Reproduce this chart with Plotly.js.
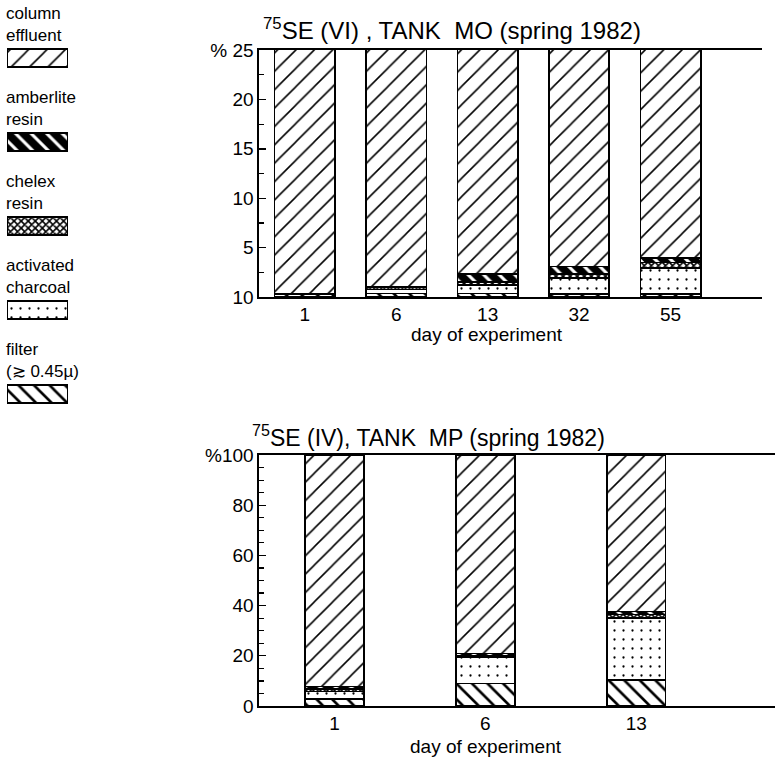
<!DOCTYPE html>
<html>
<head>
<meta charset="utf-8">
<script src="https://cdn.plot.ly/plotly-3.0.1.min.js"></script>
<style>html,body{margin:0;padding:0;background:#fff;}#chart{width:775px;height:761px;}</style>
</head>
<body>
<div id="chart"></div>
<script>
// ---- Data: top panel, 75Se(VI), tank MO ----
const daysTop = ['1', '6', '13', '32', '55'];
const filterTop = [0.25, 0.35, 0.35, 0.33, 0.33];
const charcoalTop = [0.05, 0.4, 0.85, 1.6, 2.6];
const chelexTop = [0.03, 0.2, 0.3, 0.4, 0.55];
const amberliteTop = [0.02, 0.08, 0.85, 0.75, 0.45];
const effluentTop = [99.65, 98.97, 97.65, 96.92, 96.07];

// ---- Data: bottom panel, 75Se(IV), tank MP ----
const daysBottom = ['1', '6', '13'];
const filterBottom = [2.8, 9.0, 10.3];
const charcoalBottom = [2.9, 10.5, 24.8];
const chelexBottom = [1.0, 0.7, 1.3];
const amberliteBottom = [1.0, 0.7, 1.3];
const effluentBottom = [92.3, 79.1, 62.3];

// ---- Tick labels ----
const topTickVals = [0, 5, 10, 15, 20, 25];
const topTickText = ['10', '5', '10', '15', '20', '% 25'];
const bottomTickVals = [0, 20, 40, 60, 80, 100];
const bottomTickText = ['0', '20', '40', '60', '80', '%100'];

// ---- Legend ----
const legendKeys = ['effluent', 'amberlite', 'chelex', 'charcoal', 'filter'];
const legendLabels = ['column<br>effluent', 'amberlite<br>resin', 'chelex<br>resin', 'activated<br>charcoal', 'filter<br>(\u2273 0.45\u00b5)'];

const FONT = 'Liberation Sans, Arial, sans-serif';
const W = 775, H = 761;
const px = v => v / W;
const py = v => 1 - v / H;

const patterns = {
  effluent: {shape: '/', fgcolor: '#000', bgcolor: '#fff', size: 13, solidity: 0.12},
  amberlite: {shape: '\\', fgcolor: '#fff', bgcolor: '#000', size: 11, solidity: 0.28},
  chelex: {shape: 'x', fgcolor: '#000', bgcolor: '#fff', size: 5, solidity: 0.55},
  charcoal: {shape: '.', fgcolor: '#000', bgcolor: '#fff', size: 9, solidity: 0.05},
  filter: {shape: '\\', fgcolor: '#000', bgcolor: '#fff', size: 11, solidity: 0.24}
};

function bar(x, y, key, xa, ya, width) {
  return {
    type: 'bar', x: x, y: y, xaxis: xa, yaxis: ya, width: width,
    marker: {color: '#fff', pattern: patterns[key], line: {color: '#000', width: 1.6}},
    showlegend: false, hoverinfo: 'skip'
  };
}

const traces = [
  bar(daysTop, filterTop, 'filter', 'x', 'y', 0.66),
  bar(daysTop, charcoalTop, 'charcoal', 'x', 'y', 0.66),
  bar(daysTop, chelexTop, 'chelex', 'x', 'y', 0.66),
  bar(daysTop, amberliteTop, 'amberlite', 'x', 'y', 0.66),
  bar(daysTop, effluentTop, 'effluent', 'x', 'y', 0.66),
  bar(daysBottom, filterBottom, 'filter', 'x2', 'y2', 0.39),
  bar(daysBottom, charcoalBottom, 'charcoal', 'x2', 'y2', 0.39),
  bar(daysBottom, chelexBottom, 'chelex', 'x2', 'y2', 0.39),
  bar(daysBottom, amberliteBottom, 'amberlite', 'x2', 'y2', 0.39),
  bar(daysBottom, effluentBottom, 'effluent', 'x2', 'y2', 0.39)
];

// legend swatches (one horizontal bar per key)
legendKeys.forEach(k => {
  traces.push({
    type: 'bar', orientation: 'h', x: [1], y: [k], xaxis: 'x3', yaxis: 'y3', width: 0.21,
    marker: {color: '#fff', pattern: patterns[k], line: {color: '#000', width: 2}},
    showlegend: false, hoverinfo: 'skip'
  });
});

const yCommon = {
  showline: true, linecolor: '#000', linewidth: 1.6,
  ticks: 'inside', ticklen: 7, tickwidth: 1.4, tickcolor: '#000',
  showgrid: false, zeroline: false, fixedrange: true,
  tickfont: {family: FONT, size: 19, color: '#000'}
};
const xCommon = {
  type: 'category', showline: true, mirror: true, linecolor: '#000', linewidth: 1.6,
  ticks: '', showgrid: false, zeroline: false, fixedrange: true,
  tickfont: {family: FONT, size: 19, color: '#000'}
};

const annotations = [
  {xref: 'paper', yref: 'paper', x: px(261), y: py(46), xanchor: 'left', yanchor: 'bottom', showarrow: false,
   text: '<sup>75</sup>SE (VI) , TANK\u00a0 MO (spring 1982)', font: {family: FONT, size: 24, color: '#000'}},
  {xref: 'paper', yref: 'paper', x: px(250), y: py(453), xanchor: 'left', yanchor: 'bottom', showarrow: false,
   text: '<sup>75</sup>SE (IV), TANK\u00a0 MP (spring 1982)', font: {family: FONT, size: 23, color: '#000'}},
  {xref: 'paper', yref: 'paper', x: px(487), y: py(334), xanchor: 'center', yanchor: 'middle', showarrow: false,
   text: 'day of experiment', font: {family: FONT, size: 19, color: '#000'}},
  {xref: 'paper', yref: 'paper', x: px(486), y: py(746), xanchor: 'center', yanchor: 'middle', showarrow: false,
   text: 'day of experiment', font: {family: FONT, size: 19, color: '#000'}}
];
legendKeys.forEach((k, i) => {
  annotations.push({
    xref: 'paper', yref: 'y3', x: px(4), y: k, yshift: 11, xanchor: 'left', yanchor: 'bottom', align: 'left',
    showarrow: false, text: legendLabels[i], font: {family: FONT, size: 17, color: '#000'}
  });
});

const layout = {
  width: W, height: H,
  margin: {l: 0, r: 0, t: 0, b: 0},
  paper_bgcolor: '#fff', plot_bgcolor: 'rgba(0,0,0,0)',
  barmode: 'stack',
  font: {family: FONT, color: '#000'},
  xaxis: Object.assign({}, xCommon, {domain: [px(259), px(762)], range: [-0.5, 5.0], anchor: 'y'}),
  yaxis: Object.assign({}, yCommon, {domain: [py(297), py(50)], range: [0, 25], anchor: 'x',
    tickvals: topTickVals, ticktext: topTickText,
    minor: {dtick: 2.5, ticks: 'inside', ticklen: 5, tickwidth: 1.2, tickcolor: '#000', showgrid: false}}),
  xaxis2: Object.assign({}, xCommon, {domain: [px(259), 1], range: [-0.5, 2.92], anchor: 'y2'}),
  yaxis2: Object.assign({}, yCommon, {domain: [py(706), py(455)], range: [0, 100], anchor: 'x2',
    tickvals: bottomTickVals, ticktext: bottomTickText,
    minor: {dtick: 5, ticks: 'inside', ticklen: 5, tickwidth: 1.2, tickcolor: '#000', showgrid: false}}),
  xaxis3: {domain: [px(7), px(68)], range: [0, 1], visible: false, fixedrange: true, anchor: 'y3'},
  yaxis3: {domain: [py(436), py(16)], type: 'category', range: [4.5, -0.5], visible: false, fixedrange: true, anchor: 'x3'},
  annotations: annotations,
  showlegend: false
};

Plotly.newPlot('chart', traces, layout, {displayModeBar: false, staticPlot: true});
</script>
</body>
</html>
